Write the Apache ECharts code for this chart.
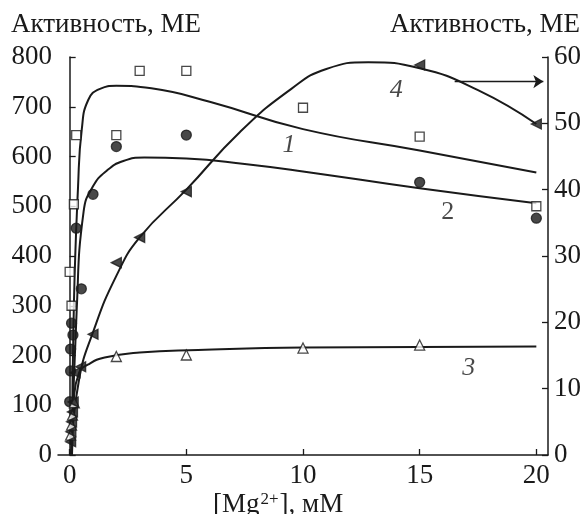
<!DOCTYPE html>
<html>
<head>
<meta charset="utf-8">
<script src="https://cdn.jsdelivr.net/npm/echarts@6/dist/echarts.min.js"></script>
<style>
  html, body { margin: 0; padding: 0; background: #fff; }
  #container { width: 585px; height: 514px; }
</style>
</head>
<body>
<div id="container"></div>
<script>
    // точки (квадраты, кружки, треугольники) и сглаженные кривые
    var xTicks = [0, 5, 10, 15, 20];

    var pts1 = [[0,368],[0.08,300],[0.18,504],[0.28,643],[2,643],[3,772],[5,772],[10,698],[15,640],[20,500]];
    var pts2 = [[0,107],[0.04,169],[0.04,213],[0.14,241],[0.08,265],[0.5,334],[0.28,456],[1,524],[2,620],[5,643],[15,548],[20,476]];
    var pts3 = [[0.04,40],[0.08,60],[0.12,80],[0.2,105],[2,198],[5,201],[10,215],[15,221]];
    var pts4 = [[0.04,2],[0.05,3.5],[0.08,5],[0.12,6.5],[0.15,8],[0.23,12.4],[0.47,13.3],[1,18.2],[2,29],[3,32.8],[5,39.7],[10,60.8],[15,58.8],[20,49.9]];

    var curve1 = [[0.1,0],[0.18,300],[0.36,540],[0.52,655],[0.8,714],[1.3,736],[2,742],[3.5,737],[6,710],[10,655],[15,612],[20,568]];
    var curve2 = [[0.1,0],[0.3,290],[0.6,490],[1,540],[1.6,572],[2.3,591],[3.2,598],[5,596],[7.5,585],[10,570],[15,536],[20,506]];
    var curve3 = [[0.05,20],[0.15,100],[0.4,165],[0.8,182],[1.5,196],[3,206],[5.5,211],[10,216],[15,217],[20,218]];
    var curve4 = [[0.05,0],[0.4,11.3],[1,18.5],[2,27],[3,32.8],[5,40],[7.3,48.7],[9.5,55.2],[11,58.2],[12.8,59.2],[15,58.3],[17.5,55],[20,49.9]];

    var labelsLeft = [{name: '1', value: [9.4, 623], italic: true}, {name: '2', value: [16.2, 489], italic: false}, {name: '3', value: [17.1, 175], italic: true}];
    var labelsRight = [{name: '4', value: [14.0, 55], italic: true}];
    var arrow4 = [[16.5, 56.3], [20.3, 56.3]];

    var FONT = "'Liberation Serif', 'DejaVu Serif', serif";
    var INK = '#1a1a1a';

    function curve(data, yIdx) {
        return {
            type: 'line', data: data, yAxisIndex: yIdx, smooth: 0.5,
            showSymbol: false, silent: true, z: 2,
            lineStyle: { color: INK, width: 2 }
        };
    }
    function marks(data, yIdx, symbol, size, filled, rot) {
        return {
            type: 'scatter', data: data, yAxisIndex: yIdx, symbol: symbol, symbolSize: size,
            symbolRotate: rot || 0, silent: true, z: 3,
            itemStyle: { color: filled ? INK : '#fff', borderColor: INK, borderWidth: 1.3 }
        };
    }
    function texts(list, yIdx) {
        return {
            type: 'scatter', yAxisIndex: yIdx, symbolSize: 0, silent: true, z: 4,
            data: list.map(function (d) {
                return {
                    name: d.name, value: d.value,
                    label: { show: true, position: 'inside', formatter: '{b}',
                        fontFamily: FONT, fontSize: 26, color: INK,
                        fontStyle: d.italic ? 'italic' : 'normal' }
                };
            })
        };
    }

    var axisCommon = {
        axisLine: { show: true, lineStyle: { color: INK, width: 1.5 } },
        axisTick: { show: true, inside: true, length: 6, lineStyle: { color: INK, width: 1.3 } },
        axisLabel: { fontFamily: FONT, fontSize: 27, color: INK, margin: 6 },
        splitLine: { show: false }
    };

    var s4 = curve(curve4, 1);
    s4.markLine = {
        silent: true, symbol: ['none', 'arrow'], symbolSize: 10,
        label: { show: false },
        lineStyle: { color: INK, width: 1.3, type: 'solid' },
        data: [[{ coord: arrow4[0], symbol: 'none' }, { coord: arrow4[1], symbol: 'arrow', symbolSize: 10 }]]
    };

    var titleStyle = { fontFamily: FONT, fontSize: 27, fontWeight: 'normal', color: INK };

    var dom = document.getElementById('container');
    var myChart = echarts.init(dom);
    var option = {
        animation: false,
        backgroundColor: '#fff',
        title: [
            { text: 'Активность, МЕ', left: 6, top: 6, textStyle: titleStyle },
            { text: 'Активность, МЕ', right: 0, top: 6, textStyle: titleStyle },
            { text: '{a|[Mg}{b|2+}{a|], мМ}', left: 208, top: 486,
              textStyle: { fontWeight: 'normal', rich: {
                  a: { fontFamily: FONT, fontSize: 27, fontWeight: 'normal', color: INK },
                  b: { fontFamily: FONT, fontSize: 17, fontWeight: 'normal', color: INK, verticalAlign: 'top', padding: [0, 1, 10, 1] }
              } } }
        ],
        grid: { left: 58, right: 37, top: 57, bottom: 59 },
        xAxis: {
            type: 'value', min: -0.5, max: 20.5,
            axisLine: axisCommon.axisLine,
            axisTick: { show: true, inside: true, length: 6, customValues: xTicks, lineStyle: { color: INK, width: 1.3 } },
            axisLabel: { fontFamily: FONT, fontSize: 27, color: INK, margin: 7, customValues: xTicks },
            splitLine: { show: false }
        },
        yAxis: [
            Object.assign({ type: 'value', position: 'left', min: 0, max: 800, interval: 100 }, axisCommon),
            Object.assign({ type: 'value', position: 'right', min: 0, max: 60, interval: 10 }, axisCommon)
        ],
        series: [
            curve(curve1, 0),
            curve(curve2, 0),
            curve(curve3, 0),
            s4,
            marks(pts1, 0, 'rect', 9, false),
            marks(pts2, 0, 'circle', 10, true),
            marks(pts3, 0, 'triangle', 10, false),
            marks(pts4, 1, 'triangle', 10, true, 90),
            texts(labelsLeft, 0),
            texts(labelsRight, 1)
        ]
    };
    if (option && typeof option === "object") {
        myChart.setOption(option, true);
    }
</script>
</body>
</html>
